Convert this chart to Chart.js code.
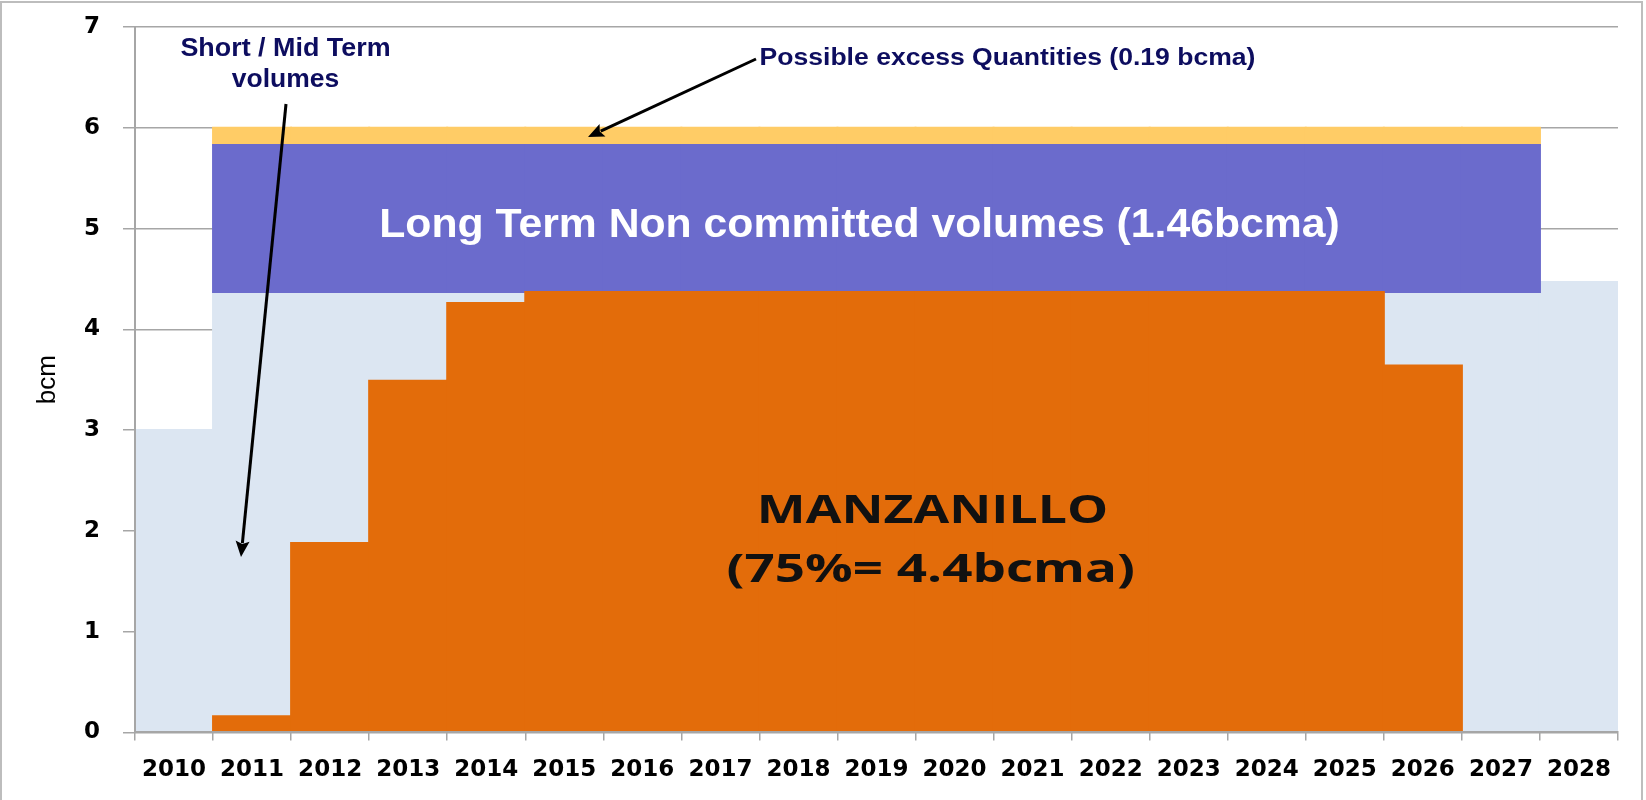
<!DOCTYPE html>
<html>
<head>
<meta charset="utf-8">
<script src="https://cdn.jsdelivr.net/npm/chart.js@4.4.1/dist/chart.umd.min.js"></script>
<style>
html,body{margin:0;padding:0;background:#fff;overflow:hidden;}
#wrap{position:relative;width:1646px;height:800px;}
#frame{position:absolute;left:0;top:1px;width:1643px;height:830px;border:2px solid #BDBDBD;box-sizing:border-box;pointer-events:none;}
canvas{display:block;}
</style>
</head>
<body>
<div id="wrap"><canvas id="c" width="1646" height="800"></canvas><div id="frame"></div></div>
<script>
// ---- data ----
const years = ['2010','2011','2012','2013','2014','2015','2016','2017','2018','2019','2020','2021','2022','2023','2024','2025','2026','2027','2028'];
const shortMidTerm = [3.0, 4.37, 4.37, 4.37, 4.37, 4.37, 4.37, 4.37, 4.37, 4.37, 4.37, 4.37, 4.37, 4.37, 4.37, 4.37, 4.37, 4.47, 4.47];
const manzanillo   = [null, 0.16, 1.88, 3.49, 4.26, 4.37, 4.37, 4.37, 4.37, 4.37, 4.37, 4.37, 4.37, 4.37, 4.37, 4.37, 3.64, null, null];
const longTermLow  = [null, 4.37, 4.37, 4.37, 4.37, 4.37, 4.37, 4.37, 4.37, 4.37, 4.37, 4.37, 4.37, 4.37, 4.37, 4.37, 4.37, 4.37, null];
const longTermHigh = [null, 5.83, 5.83, 5.83, 5.83, 5.83, 5.83, 5.83, 5.83, 5.83, 5.83, 5.83, 5.83, 5.83, 5.83, 5.83, 5.83, 5.83, null];
const excessHigh   = [null, 6.0, 6.0, 6.0, 6.0, 6.0, 6.0, 6.0, 6.0, 6.0, 6.0, 6.0, 6.0, 6.0, 6.0, 6.0, 6.0, 6.0, null];
const yTicks = [0, 1, 2, 3, 4, 5, 6, 7];

const floating = (lo, hi) => lo.map((v, i) => (v === null || hi[i] === null) ? null : [v, hi[i]]);

// ---- annotation texts & arrows (layout) ----
const NAVY = '#0D0D5F';
const notes = [
  {text: 'Short / Mid Term', x: 285.5, y: 56, w: 209, font: 'bold 26px "Liberation Sans", Arial', color: NAVY},
  {text: 'volumes', x: 285.5, y: 87, w: 107, font: 'bold 26px "Liberation Sans", Arial', color: NAVY},
  {text: 'Possible excess Quantities (0.19 bcma)', x: 1007.5, y: 65, w: 494, font: 'bold 23px "Liberation Sans", Arial', color: NAVY},
  {text: 'Long Term Non committed volumes (1.46bcma)', x: 859.5, y: 237, w: 957, font: 'bold 40px "Liberation Sans", Arial', color: '#FFFFFF'},
  {text: 'MANZANILLO', x: 932.5, y: 523, w: 345, font: 'bold 40px "Open Sans"', color: '#111111'},
  {text: '(75%= 4.4bcma)', x: 930.8, y: 582, w: 405, font: 'bold 40px "Open Sans"', color: '#111111'}
];
const arrows = [
  {x1: 286, y1: 104, x2: 241, y2: 557},
  {x1: 756, y1: 59, x2: 588, y2: 137}
];

const annotPlugin = {
  id: 'annot',
  afterDraw(chart) {
    const ctx = chart.ctx;
    ctx.save();
    for (const n of notes) {
      ctx.font = n.font;
      ctx.fillStyle = n.color;
      ctx.textAlign = 'center';
      ctx.textBaseline = 'alphabetic';
      const m = ctx.measureText(n.text);
      const ink = (m.actualBoundingBoxLeft + m.actualBoundingBoxRight) || m.width;
      ctx.save();
      ctx.translate(n.x, n.y);
      ctx.scale(n.w / ink, 1);
      ctx.fillText(n.text, 0, 0);
      ctx.restore();
    }
    for (const a of arrows) {
      const ang = Math.atan2(a.y2 - a.y1, a.x2 - a.x1);
      const hl = 16, hw = 7;
      const bx = a.x2 - hl * Math.cos(ang), by = a.y2 - hl * Math.sin(ang);
      ctx.strokeStyle = '#000';
      ctx.lineWidth = 3;
      ctx.beginPath();
      ctx.moveTo(a.x1, a.y1);
      ctx.lineTo(bx + 2 * Math.cos(ang), by + 2 * Math.sin(ang));
      ctx.stroke();
      ctx.fillStyle = '#000';
      ctx.beginPath();
      ctx.moveTo(a.x2, a.y2);
      ctx.lineTo(bx - hw * Math.sin(ang), by + hw * Math.cos(ang));
      ctx.lineTo(bx + 3 * Math.cos(ang), by + 3 * Math.sin(ang));
      ctx.lineTo(bx + hw * Math.sin(ang), by - hw * Math.cos(ang));
      ctx.closePath();
      ctx.fill();
    }
    ctx.restore();
  }
};

const GRID = '#A6A6A6';
const barCommon = {barPercentage: 1, categoryPercentage: 1, borderWidth: 0, inflateAmount: 1};

new Chart(document.getElementById('c'), {
  type: 'bar',
  data: {
    labels: years,
    datasets: [
      Object.assign({label: 'Manzanillo', data: manzanillo, backgroundColor: '#E36C0A', order: 0}, barCommon),
      Object.assign({label: 'Long Term Non committed', data: floating(longTermLow, longTermHigh), backgroundColor: '#6B6BCC', order: 1}, barCommon),
      Object.assign({label: 'Possible excess', data: floating(longTermHigh, excessHigh), backgroundColor: '#FFCC66', order: 2}, barCommon),
      Object.assign({label: 'Short / Mid Term', data: shortMidTerm, backgroundColor: '#DCE6F2', order: 3}, barCommon)
    ]
  },
  options: {
    responsive: false,
    animation: false,
    devicePixelRatio: 1,
    layout: {padding: {left: 0, top: 27, right: 28, bottom: 0}},
    plugins: {legend: {display: false}, tooltip: {enabled: false}},
    scales: {
      x: {
        stacked: true,
        offset: true,
        grid: {display: true, drawOnChartArea: false, drawTicks: true, tickLength: 8, color: GRID, lineWidth: 1.5, offset: true},
        border: {display: true, color: GRID, width: 2, z: 1},
        ticks: {color: '#000', font: {family: '"DejaVu Sans"', size: 23, weight: 'bold'}, padding: 16, maxRotation: 0, autoSkip: false},
        afterFit: s => { s.height = 67.6; s.paddingLeft = 0; s.paddingRight = 0; }
      },
      y: {
        stacked: false,
        min: 0, max: 7,
        afterBuildTicks: s => { s.ticks = yTicks.map(v => ({value: v})); },
        grid: {color: GRID, lineWidth: 1.5, tickLength: 12, drawTicks: true},
        border: {display: true, color: GRID, width: 2, z: 1},
        ticks: {color: '#000', font: {family: '"DejaVu Sans"', size: 23, weight: 'bold'}, padding: 23},
        title: {display: true, text: 'bcm', color: '#000', font: {family: '"Liberation Sans", Arial', size: 26}, padding: {top: 32, bottom: 0}},
        afterFit: s => { s.width = 135; s.paddingTop = 0; s.paddingBottom = 0; }
      }
    }
  },
  plugins: [annotPlugin]
});
</script>
</body>
</html>
